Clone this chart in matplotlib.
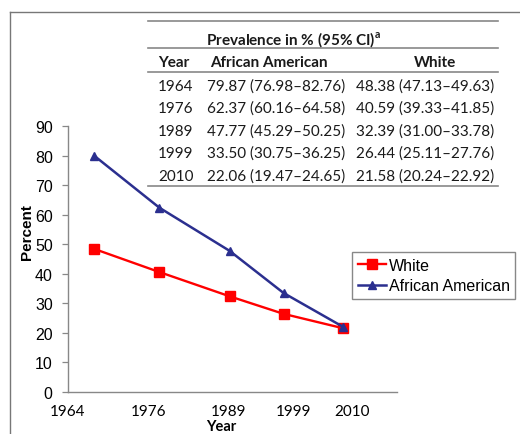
import matplotlib
matplotlib.use("Agg")
import matplotlib.pyplot as plt
from matplotlib.lines import Line2D

# ---- data ----
years = [1964, 1976, 1989, 1999, 2010]
white = [48.38, 40.59, 32.39, 26.44, 21.58]
african_american = [79.87, 62.37, 47.77, 33.50, 22.06]
white_ci = ["47.13–49.63", "39.33–41.85", "31.00–33.78", "25.11–27.76", "20.24–22.92"]
aa_ci = ["76.98–82.76", "60.16–64.58", "45.29–50.25", "30.75–36.25", "19.47–24.65"]
xtick_labels = ["1964", "1976", "1989", "1999", "2010"]
yticks = [0, 10, 20, 30, 40, 50, 60, 70, 80, 90]

W, H = 520, 435
fig = plt.figure(figsize=(W / 100, H / 100), dpi=100)

def fx(px):
    return px / W

def fy(py):
    return 1 - py / H

ax = fig.add_axes([fx(68), fy(393), fx(397) - fx(68), fy(127) - fy(393)])

ax.plot(years, white, color="#ff0000", lw=1.7, marker="s", markersize=7.5,
        label="White", zorder=3)
ax.plot(years, african_american, color="#2b2f8f", lw=1.8, marker="^", markersize=5.5,
        label="African American", zorder=4)

ax.set_xlim(1960, 2020)
ax.set_ylim(0, 90)
ax.set_yticks(yticks)
ax.set_yticklabels([str(v) for v in yticks], fontfamily="Liberation Sans", fontsize=11.5)
# tick labels are offset in the original figure
ax.set_xticks([1959.1, 1974.0, 1988.9, 2000.8, 2011.7])
ax.set_xticklabels(xtick_labels, fontfamily="Lato", fontsize=11)
ax.tick_params(axis="x", length=0, pad=9)
ax.tick_params(axis="y", length=4, width=0.9, color="#888888", pad=7, direction="out")

for s in ["top", "right"]:
    ax.spines[s].set_visible(False)
for s in ["left", "bottom"]:
    ax.spines[s].set_color("#888888")
    ax.spines[s].set_linewidth(1.0)

fig.text(fx(27), fy(232), "Percent", rotation=90, ha="center", va="center",
         fontfamily="Liberation Sans", fontweight="bold", fontsize=11)
fig.text(fx(221), fy(420), "Year", ha="center", va="top",
         fontfamily="Lato", fontweight="bold", fontsize=10.5)

leg = fig.legend(loc="upper left", bbox_to_anchor=(fx(352), fy(253)),
                 bbox_transform=fig.transFigure,
                 prop={"family": "Liberation Sans", "size": 11.5},
                 handlelength=1.8, handletextpad=0.15, labelspacing=0.35,
                 borderpad=0.35, borderaxespad=0, fancybox=False,
                 edgecolor="#888888", framealpha=1)
leg.get_frame().set_linewidth(1.0)

# ---- frame ----
fig.add_artist(Line2D([fx(10), 1], [fy(13), fy(13)], color="#777777", lw=1.0))
fig.add_artist(Line2D([fx(10), fx(10)], [fy(13), 0], color="#777777", lw=1.0))

# ---- table ----
x0, x1 = fx(148), fx(498)
for py in [22, 49, 73, 187]:
    fig.add_artist(Line2D([x0, x1], [fy(py), fy(py)], color="#888888", lw=1.2))

tc = "#1a1a1a"
fs = 11
fig.text(fx(206), fy(40), r"Prevalence in % (95% CI)$^{\mathregular{a}}$", ha="left", va="center",
         fontfamily="Lato", fontweight="bold", fontsize=fs, color=tc)
fig.text(fx(158), fy(63), "Year", ha="left", va="center",
         fontfamily="Lato", fontweight="bold", fontsize=fs, color=tc)
fig.text(fx(269), fy(63), "African American", ha="center", va="center",
         fontfamily="Lato", fontweight="bold", fontsize=fs, color=tc)
fig.text(fx(435), fy(63), "White", ha="center", va="center",
         fontfamily="Lato", fontweight="bold", fontsize=fs, color=tc)

row_y = [87, 109, 132, 154, 177]
for i, yr in enumerate(years):
    py = row_y[i]
    fig.text(fx(158), fy(py), str(yr), ha="left", va="center",
             fontfamily="Lato", fontsize=fs, color=tc)
    fig.text(fx(207), fy(py), f"{african_american[i]:.2f} ({aa_ci[i]})", ha="left",
             va="center", fontfamily="Lato", fontsize=fs, color=tc)
    fig.text(fx(356), fy(py), f"{white[i]:.2f} ({white_ci[i]})", ha="left",
             va="center", fontfamily="Lato", fontsize=fs, color=tc)

fig.savefig("out.png", dpi=100)
